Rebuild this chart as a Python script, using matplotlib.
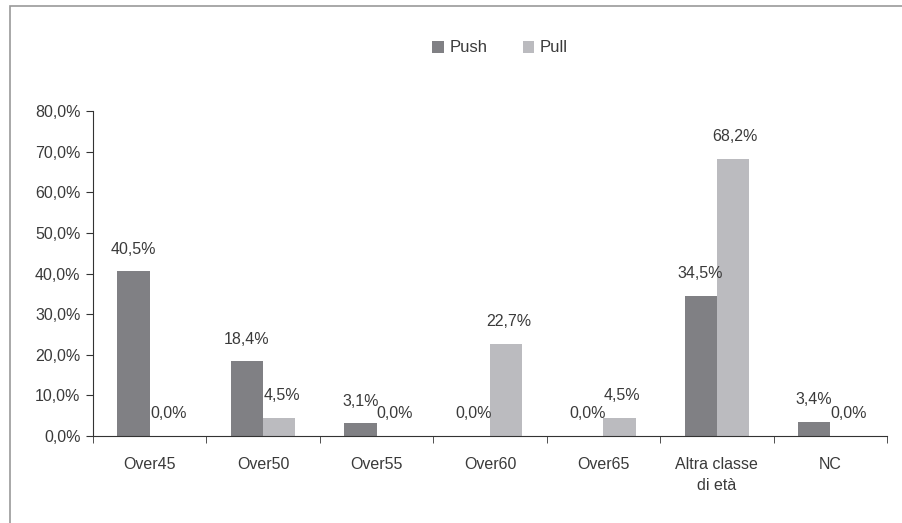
import numpy as np
import matplotlib
matplotlib.use("Agg")
import matplotlib.pyplot as plt
from matplotlib.patches import Rectangle

categories = ["Over45", "Over50", "Over55", "Over60", "Over65", "Altra classe\ndi età", "NC"]
push = [40.5, 18.4, 3.1, 0.0, 0.0, 34.5, 3.4]
pull = [0.0, 4.5, 0.0, 22.7, 4.5, 68.2, 0.0]

push_color = "#808084"
pull_color = "#bbbbbf"
text_color = "#3a3a3a"

plt.rcParams['font.family'] = ['Liberation Sans', 'DejaVu Sans']

fig = plt.figure(figsize=(9.03, 5.23), dpi=100)
ax = fig.add_axes([93/903, 1-436/523, (887-93)/903, (436-111)/523])

x = np.arange(len(categories))
w = 0.285
ax.bar(x - w/2, push, w, color=push_color, label="Push")
ax.bar(x + w/2, pull, w, color=pull_color, label="Pull")

def fmt(v):
    return ("%.1f%%" % v).replace(".", ",")

# value labels above each bar
for xi, v in zip(x, push):
    ax.annotate(fmt(v), (xi - w/2, v), xytext=(0, 16), textcoords="offset points",
                ha="center", va="center", fontsize=11.5, color=text_color)
for xi, v in zip(x, pull):
    ax.annotate(fmt(v), (xi + w/2 + 0.02, v), xytext=(0, 16), textcoords="offset points",
                ha="center", va="center", fontsize=11.5, color=text_color)

ax.set_xlim(-0.5, len(categories) - 0.5)
ax.set_ylim(0, 80)
ax.set_yticks(np.arange(0, 81, 10))
ax.set_yticklabels([fmt(v) for v in np.arange(0, 81, 10)], fontsize=11.5, color=text_color)

ax.set_xticks(x)
ax.set_xticklabels(categories, fontsize=11.5, color=text_color, linespacing=1.5)
ax.tick_params(axis="x", length=0, pad=15)
ax.set_xticks(np.arange(-0.5, len(categories)), minor=True)
ax.tick_params(axis="x", which="minor", length=5, color="#333333")
ax.tick_params(axis="y", length=5, color="#333333", pad=4)

for s in ["top", "right"]:
    ax.spines[s].set_visible(False)
ax.spines["left"].set_color("#333333")
ax.spines["bottom"].set_color("#333333")

leg = fig.legend(loc="center", bbox_to_anchor=(500/903, 1-48/523), ncol=2, frameon=False,
                 fontsize=12, handlelength=0.7, handleheight=0.7, columnspacing=2.1,
                 handletextpad=0.35)
for t in leg.get_texts():
    t.set_color(text_color)

# outer frame (only top and left edges visible in the crop)
fig.patches.append(Rectangle((10/903, -0.2), 1.2, 1.2 - 6/523, transform=fig.transFigure,
                             fill=False, edgecolor="#999999", linewidth=1.2))

fig.savefig("out.png", dpi=100)
